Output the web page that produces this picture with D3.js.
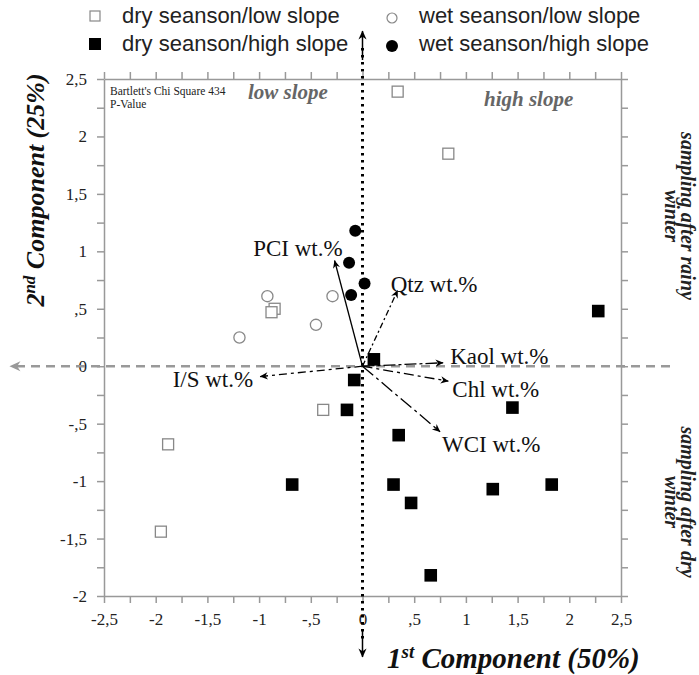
<!DOCTYPE html>
<html>
<head>
<meta charset="utf-8">
<script src="https://cdn.jsdelivr.net/npm/d3@7"></script>
<style>
body { margin: 0; background: #fff; }
svg text { font-family: "Liberation Serif", "Times New Roman", serif; }
</style>
</head>
<body>
<div id="chart"></div>
<script>
// PCA scores, [1st component, 2nd component]
var dryLow = [[0.34, 2.39], [0.83, 1.85], [-0.85, 0.50], [-0.88, 0.47], [-0.38, -0.38], [-1.88, -0.68], [-1.95, -1.44]];
var dryHigh = [[0.11, 0.06], [-0.08, -0.12], [-0.15, -0.38], [1.45, -0.36], [0.35, -0.60], [2.28, 0.48],
               [-0.68, -1.03], [0.30, -1.03], [0.47, -1.19], [1.26, -1.07], [1.83, -1.03], [0.66, -1.82]];
var wetLow = [[-0.92, 0.61], [-0.29, 0.61], [-0.45, 0.36], [-1.19, 0.25]];
var wetHigh = [[-0.07, 1.18], [-0.13, 0.90], [0.02, 0.72], [-0.11, 0.62]];

// loadings
var variables = ["PCI wt.%", "Qtz wt.%", "Kaol wt.%", "Chl wt.%", "WCI wt.%", "I/S wt.%"];
var loadX = [-0.27, 0.34, 0.78, 0.83, 0.75, -0.99];
var loadY = [0.92, 0.66, 0.03, -0.13, -0.57, -0.09];

var legendLabels = ["dry seanson/low slope", "dry seanson/high slope", "wet seanson/low slope", "wet seanson/high slope"];
var xTicks = d3.range(-10, 11).map(function(i) { return i * 0.25; });
var yTicks = d3.range(-8, 11).map(function(i) { return i * 0.25; });

// label placement / line style for each loading arrow
var vecStyle = {
	"PCI wt.%":  {dx: 8,  dy: -5, anchor: "end",   dash: null},
	"Qtz wt.%":  {dx: -7, dy: 2,  anchor: "start", dash: "6,3,2,3"},
	"Kaol wt.%": {dx: 7,  dy: 1,  anchor: "start", dash: "12,3,3,3"},
	"Chl wt.%":  {dx: 4,  dy: 16, anchor: "start", dash: "10,4,3,4"},
	"WCI wt.%":  {dx: 2,  dy: 20, anchor: "start", dash: "14,4,3,4"},
	"I/S wt.%":  {dx: -7, dy: 10, anchor: "end",   dash: "8,4,3,4"}
};

var width = 699, height = 675;

var x = d3.scaleLinear().domain([-2.5, 2.5]).range([104, 621]);
var y = d3.scaleLinear().domain([-2, 2.5]).range([596, 79]);

var svg = d3.select("#chart").append("svg")
	.attr("width", width)
	.attr("height", height);

var defs = svg.append("defs");
function arrowMarker(id, color, w, h) {
	defs.append("marker")
		.attr("id", id)
		.attr("viewBox", "0 0 10 10")
		.attr("refX", 9.5).attr("refY", 5)
		.attr("markerWidth", w).attr("markerHeight", h)
		.attr("markerUnits", "userSpaceOnUse")
		.attr("orient", "auto")
		.append("path")
		.attr("d", "M0,0.5 L10,5 L0,9.5 L3,5 Z")
		.attr("fill", color);
}
arrowMarker("arrVec", "#000", 11, 8);
arrowMarker("arrDot", "#000", 14, 9);
arrowMarker("arrGray", "#999", 14, 11);

function fmt(v) {
	if (Math.abs(v * 2 - Math.round(v * 2)) > 1e-6) return "";
	var s = String(Math.round(v * 10) / 10).replace(".", ",");
	return s.replace(/^(-?)0,/, "$1,");
}

// frame with outward ticks on all sides
function styleAxis(g) {
	g.attr("font-family", "Liberation Serif").attr("font-size", 17);
	g.selectAll("path, line").attr("stroke", "#999").attr("stroke-width", 1.5);
	g.selectAll("text").attr("fill", "#222");
}
svg.append("g").attr("transform", "translate(0," + y(-2) + ")")
	.call(d3.axisBottom(x).tickValues(xTicks).tickFormat(fmt).tickSize(7).tickSizeOuter(0).tickPadding(10))
	.call(styleAxis);
svg.append("g").attr("transform", "translate(" + x(-2.5) + ",0)")
	.call(d3.axisLeft(y).tickValues(yTicks).tickFormat(fmt).tickSize(7).tickSizeOuter(0).tickPadding(10))
	.call(styleAxis);
svg.append("g").attr("transform", "translate(0," + y(2.5) + ")")
	.call(d3.axisTop(x).tickValues(xTicks).tickFormat("").tickSize(7).tickSizeOuter(0))
	.call(styleAxis);
svg.append("g").attr("transform", "translate(" + x(2.5) + ",0)")
	.call(d3.axisRight(y).tickValues(yTicks).tickFormat("").tickSize(7).tickSizeOuter(0))
	.call(styleAxis);

// dashed horizontal guide at 0
svg.append("line")
	.attr("x1", 670).attr("x2", 10)
	.attr("y1", y(0)).attr("y2", y(0))
	.attr("stroke", "#999").attr("stroke-width", 2.5)
	.attr("stroke-dasharray", "9,6")
	.attr("marker-end", "url(#arrGray)");

// markers
svg.append("g").selectAll("rect").data(dryLow).enter().append("rect")
	.attr("x", function(d) { return x(d[0]) - 5.5; })
	.attr("y", function(d) { return y(d[1]) - 5.5; })
	.attr("width", 11).attr("height", 11)
	.attr("fill", "#fff").attr("stroke", "#888").attr("stroke-width", 1.3);
svg.append("g").selectAll("circle").data(wetLow).enter().append("circle")
	.attr("cx", function(d) { return x(d[0]); })
	.attr("cy", function(d) { return y(d[1]); })
	.attr("r", 5.6)
	.attr("fill", "#fff").attr("stroke", "#888").attr("stroke-width", 1.3);
svg.append("g").selectAll("rect").data(dryHigh).enter().append("rect")
	.attr("x", function(d) { return x(d[0]) - 6.3; })
	.attr("y", function(d) { return y(d[1]) - 6.3; })
	.attr("width", 12.6).attr("height", 12.6)
	.attr("fill", "#000");
svg.append("g").selectAll("circle").data(wetHigh).enter().append("circle")
	.attr("cx", function(d) { return x(d[0]); })
	.attr("cy", function(d) { return y(d[1]); })
	.attr("r", 6)
	.attr("fill", "#000");

// dotted vertical guide at 0 (arrows both ends)
svg.append("line")
	.attr("x1", x(0)).attr("x2", x(0))
	.attr("y1", 60).attr("y2", 31)
	.attr("stroke", "#000").attr("stroke-width", 1.5)
	.attr("marker-end", "url(#arrDot)");
svg.append("line")
	.attr("x1", x(0)).attr("x2", x(0))
	.attr("y1", 48).attr("y2", 640)
	.attr("stroke", "#000").attr("stroke-width", 3)
	.attr("stroke-dasharray", "2.5,4.5");
svg.append("line")
	.attr("x1", x(0)).attr("x2", x(0))
	.attr("y1", 630).attr("y2", 657)
	.attr("stroke", "#000").attr("stroke-width", 1.5)
	.attr("marker-end", "url(#arrDot)");

// loading vectors
var vec = svg.append("g");
variables.forEach(function(v, i) {
	var st = vecStyle[v];
	vec.append("line")
		.attr("x1", x(0)).attr("y1", y(0))
		.attr("x2", x(loadX[i])).attr("y2", y(loadY[i]))
		.attr("stroke", "#000").attr("stroke-width", 1.3)
		.attr("stroke-dasharray", st.dash)
		.attr("marker-end", "url(#arrVec)");
	vec.append("text")
		.attr("x", x(loadX[i]) + st.dx)
		.attr("y", y(loadY[i]) + st.dy)
		.attr("text-anchor", st.anchor)
		.style("font-size", "23px")
		.attr("fill", "#111")
		.text(v);
});

// legend
var legendPos = [[95, 16], [95, 44], [392, 16], [392, 44]];
var leg = svg.append("g");
leg.append("rect").attr("x", legendPos[0][0] - 5).attr("y", legendPos[0][1] - 5)
	.attr("width", 10).attr("height", 10).attr("fill", "#fff").attr("stroke", "#888").attr("stroke-width", 1.2);
leg.append("rect").attr("x", legendPos[1][0] - 6).attr("y", legendPos[1][1] - 6)
	.attr("width", 12).attr("height", 12).attr("fill", "#000");
leg.append("circle").attr("cx", legendPos[2][0]).attr("cy", legendPos[2][1] + 2).attr("r", 5)
	.attr("fill", "#fff").attr("stroke", "#888").attr("stroke-width", 1.2);
leg.append("circle").attr("cx", legendPos[3][0]).attr("cy", legendPos[3][1] + 2).attr("r", 6)
	.attr("fill", "#000");
legendLabels.forEach(function(t, i) {
	leg.append("text")
		.attr("x", legendPos[i][0] + 27)
		.attr("y", legendPos[i][1] + 7)
		.style("font-family", "'Liberation Sans', Arial, sans-serif")
		.style("font-size", "22px")
		.attr("fill", "#222")
		.text(t);
});

// annotations
svg.append("text").attr("x", 110).attr("y", 95).style("font-size", "11.5px").attr("fill", "#222")
	.text("Bartlett's Chi Square 434");
svg.append("text").attr("x", 110).attr("y", 108).style("font-size", "11.5px").attr("fill", "#222")
	.text("P-Value");
svg.append("text").attr("x", 248).attr("y", 99)
	.style("font-size", "21px").style("font-weight", "bold").style("font-style", "italic")
	.attr("fill", "#666").text("low slope");
svg.append("text").attr("x", 484).attr("y", 106)
	.style("font-size", "21px").style("font-weight", "bold").style("font-style", "italic")
	.attr("fill", "#666").text("high slope");

function sideNote(cy, line1) {
	var g = svg.append("g").attr("transform", "translate(681," + cy + ") rotate(90)")
		.style("font-size", "20px").style("font-weight", "bold").style("font-style", "italic")
		.attr("fill", "#222").attr("text-anchor", "middle");
	g.append("text").attr("x", 0).attr("y", 0).text(line1);
	g.append("text").attr("x", 0).attr("y", 16).text("winter");
}
sideNote(216, "sampling after rainy");
sideNote(502, "sampling after dry");

// axis titles
var xt = svg.append("text").attr("x", 387).attr("y", 668)
	.style("font-size", "29px").style("font-weight", "bold").style("font-style", "italic").attr("fill", "#111");
xt.append("tspan").text("1");
xt.append("tspan").attr("dy", -10).style("font-size", "19px").text("st");
xt.append("tspan").attr("dy", 10).text(" Component (50%)");

var yt = svg.append("text").attr("transform", "translate(44,190) rotate(-90)")
	.attr("text-anchor", "middle")
	.style("font-size", "26px").style("font-weight", "bold").style("font-style", "italic").attr("fill", "#111");
yt.append("tspan").text("2");
yt.append("tspan").attr("dy", -9).style("font-size", "17px").text("nd");
yt.append("tspan").attr("dy", 9).text(" Component (25%)");
</script>
</body>
</html>
